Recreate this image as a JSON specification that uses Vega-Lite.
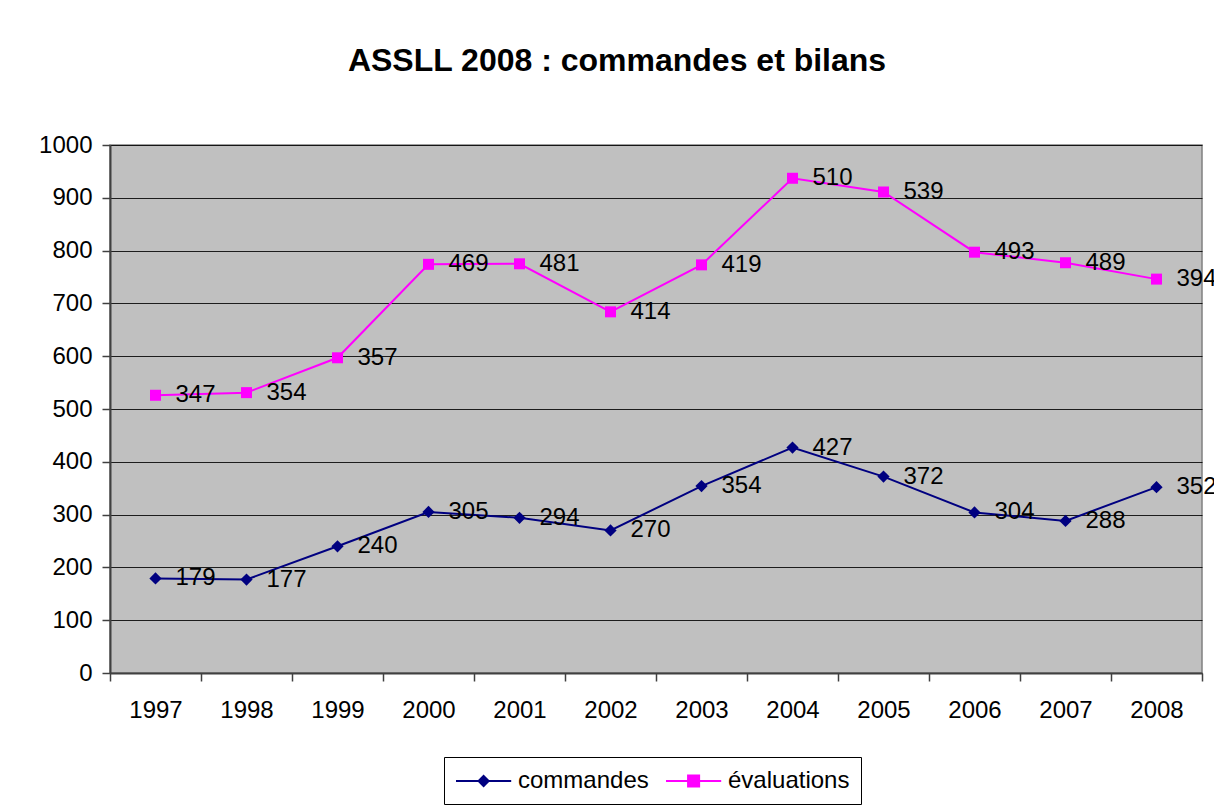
{
  "$schema": "https://vega.github.io/schema/vega-lite/v6.json",
  "autosize": {"type": "none"},
  "width": 1092,
  "height": 528,
  "padding": {"left": 110, "top": 145, "right": 12, "bottom": 135},
  "background": "white",
  "title": {
    "text": "ASSLL 2008 : commandes et bilans",
    "font": "Liberation Sans",
    "fontSize": 32,
    "fontWeight": "bold",
    "color": "#000000",
    "anchor": "middle",
    "frame": "group",
    "dx": -39,
    "offset": 55
  },
  "data": {
    "values": [
      {"year": "1997", "series": "commandes", "value": 179},
      {"year": "1998", "series": "commandes", "value": 177},
      {"year": "1999", "series": "commandes", "value": 240},
      {"year": "2000", "series": "commandes", "value": 305},
      {"year": "2001", "series": "commandes", "value": 294},
      {"year": "2002", "series": "commandes", "value": 270},
      {"year": "2003", "series": "commandes", "value": 354},
      {"year": "2004", "series": "commandes", "value": 427},
      {"year": "2005", "series": "commandes", "value": 372},
      {"year": "2006", "series": "commandes", "value": 304},
      {"year": "2007", "series": "commandes", "value": 288},
      {"year": "2008", "series": "commandes", "value": 352},
      {"year": "1997", "series": "évaluations", "value": 347},
      {"year": "1998", "series": "évaluations", "value": 354},
      {"year": "1999", "series": "évaluations", "value": 357},
      {"year": "2000", "series": "évaluations", "value": 469},
      {"year": "2001", "series": "évaluations", "value": 481},
      {"year": "2002", "series": "évaluations", "value": 414},
      {"year": "2003", "series": "évaluations", "value": 419},
      {"year": "2004", "series": "évaluations", "value": 510},
      {"year": "2005", "series": "évaluations", "value": 539},
      {"year": "2006", "series": "évaluations", "value": 493},
      {"year": "2007", "series": "évaluations", "value": 489},
      {"year": "2008", "series": "évaluations", "value": 394}
    ]
  },
  "transform": [
    {"stack": "value", "groupby": ["year"], "sort": [{"field": "series", "order": "ascending"}], "as": ["y0", "y1"]}
  ],
  "encoding": {
    "x": {
      "field": "year",
      "type": "ordinal",
      "scale": {"paddingInner": 0, "paddingOuter": 0},
      "axis": {
        "title": null,
        "labelAngle": 0,
        "tickBand": "extent",
        "tickSize": 8,
        "tickColor": "#404040",
        "tickWidth": 1.5,
        "domainColor": "#404040",
        "domainWidth": 2,
        "labelFont": "Liberation Sans",
        "labelFontSize": 24,
        "labelColor": "#000000",
        "labelPadding": 17,
        "grid": false
      }
    },
    "y": {
      "field": "y1",
      "type": "quantitative",
      "scale": {"domain": [0, 1000], "nice": false},
      "axis": {
        "title": null,
        "format": "d",
        "values": [0, 100, 200, 300, 400, 500, 600, 700, 800, 900, 1000],
        "grid": true,
        "gridColor": "#000000",
        "gridWidth": 1,
        "gridOpacity": 0.85,
        "tickSize": 8,
        "tickColor": "#404040",
        "tickWidth": 1.5,
        "domainColor": "#404040",
        "domainWidth": 2,
        "labelFont": "Liberation Sans",
        "labelFontSize": 24,
        "labelColor": "#000000",
        "labelPadding": 10
      }
    }
  },
  "layer": [
    {
      "mark": {"type": "line", "strokeWidth": 2},
      "encoding": {
        "color": {
          "field": "series",
          "type": "nominal",
          "scale": {"domain": ["commandes", "évaluations"], "range": ["#000080", "#FF00FF"]},
          "legend": {
            "title": null,
            "orient": "none",
            "legendX": 334,
            "legendY": 612,
            "direction": "horizontal",
            "padding": 11,
            "strokeColor": "#000000",
            "fillColor": "#FFFFFF",
            "labelFont": "Liberation Sans",
            "labelFontSize": 24,
            "labelColor": "#000000",
            "labelOffset": 37,
            "columnPadding": 13,
            "symbolSize": 576,
            "symbolStrokeWidth": 2,
            "symbolType": "M-1,0L3.6,0",
            "encode": {
              "symbols": {
                "update": {
                  "shape": {"signal": "datum.value === 'commandes' ? 'M-1,0L3.6,0M1.3,-0.42L1.72,0L1.3,0.42L0.88,0Z' : 'M-1,0L3.6,0M0.84,-0.46L1.76,-0.46L1.76,0.46L0.84,0.46Z'"},
                  "size": {"value": 576},
                  "fill": {"signal": "datum.value === 'commandes' ? '#000080' : '#FF00FF'"},
                  "stroke": {"signal": "datum.value === 'commandes' ? '#000080' : '#FF00FF'"},
                  "strokeWidth": {"value": 2},
                  "opacity": {"value": 1},
                  "fillOpacity": {"value": 1},
                  "strokeOpacity": {"value": 1}
                }
              }
            }
          }
        }
      }
    },
    {
      "transform": [{"filter": "datum.series === 'commandes'"}],
      "mark": {"type": "point", "shape": "diamond", "filled": true, "opacity": 1, "size": 150, "color": "#000080"}
    },
    {
      "transform": [{"filter": "datum.series === 'évaluations'"}],
      "mark": {"type": "point", "shape": "square", "filled": true, "opacity": 1, "size": 121, "color": "#FF00FF"}
    },
    {
      "mark": {"type": "text", "align": "left", "baseline": "middle", "dx": 20, "font": "Liberation Sans", "fontSize": 24, "color": "#000000"},
      "encoding": {
        "text": {"field": "value", "type": "quantitative"}
      }
    }
  ],
  "config": {
    "view": {"fill": "#C0C0C0", "stroke": "#808080", "strokeWidth": 1.5},
    "font": "Liberation Sans"
  }
}
